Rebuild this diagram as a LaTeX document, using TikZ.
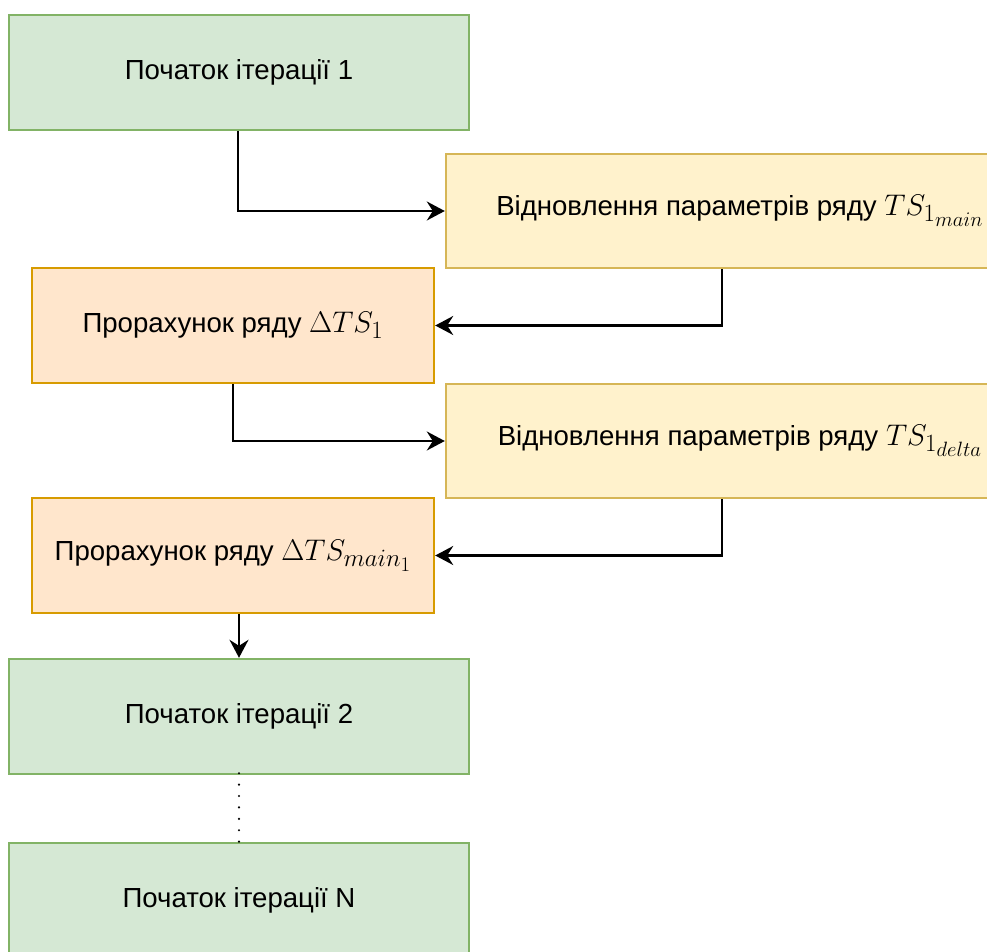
\documentclass[tikz,border=0pt]{standalone}
\usepackage{graphicx}
\usepackage{fontspec}
\setmainfont{Liberation Sans}
\usetikzlibrary{arrows.meta}

\definecolor{gfill}{HTML}{D5E8D4}
\definecolor{gline}{HTML}{82B366}
\definecolor{yfill}{HTML}{FFF2CC}
\definecolor{yline}{HTML}{D6B656}
\definecolor{ofill}{HTML}{FFE6CC}
\definecolor{oline}{HTML}{D79B00}

% formulas are set at a fixed size, slightly larger than the text
\newcommand{\mth}[1]{{\fontsize{24.88}{30}\selectfont\scalebox{1.2}{$#1$}}}

\tikzset{
  box/.style={rectangle, line width=2.4pt, inner sep=0pt, align=center,
    font=\fontsize{27.6}{32}\selectfont},
  startbox/.style={box, fill=gfill, draw=gline, minimum width=460pt, minimum height=115pt},
  restorebox/.style={box, fill=yfill, draw=yline, minimum width=588pt, minimum height=114pt},
  calcbox/.style={box, fill=ofill, draw=oline, minimum width=402pt, minimum height=115pt},
  link/.style={line width=2.2pt, -{Stealth[length=18pt, width=19pt, inset=6pt]}},
  gap/.style={line width=2.4pt, line cap=round, dash pattern=on 0pt off 11.4pt}
}

\begin{document}
\begin{tikzpicture}[x=1pt, y=-1pt]
  \useasboundingbox (0,0) rectangle (987,952);
  \clip (0,0) rectangle (987,952);
  \fill[white] (0,0) rectangle (987,952);

  \node[startbox]   (g1) at (239,72.5)  {Початок ітерації 1};
  \node[restorebox] (y1) at (740,211)   {Відновлення параметрів ряду \mth{TS_{1_{main}}}};
  \node[calcbox]    (o1) at (233,325.5) {Прорахунок ряду \mth{\Delta TS_1}};
  \node[restorebox] (y2) at (740,441)   {Відновлення параметрів ряду \mth{TS_{1_{delta}}}};
  \node[calcbox]    (o2) at (233,555.5) {Прорахунок ряду \mth{\Delta TS_{main_1}}};
  \node[startbox]   (g2) at (239,716.5) {Початок ітерації 2};
  \node[startbox]   (gn) at (239,900.5) {Початок ітерації N};

  \draw[link] ([xshift=-1pt]g1.south) |- (y1.west);
  \draw[link] ([xshift=-18pt]y1.south) |- (o1.east);
  \draw[link] (o1.south) |- (y2.west);
  \draw[link] ([xshift=-18pt]y2.south) |- (o2.east);
  \draw[link] (o2.south -| g2.north) -- (g2.north);
  \draw[gap] ([yshift=2pt]g2.south) -- ([yshift=-10pt]gn.north);
\end{tikzpicture}
\end{document}
